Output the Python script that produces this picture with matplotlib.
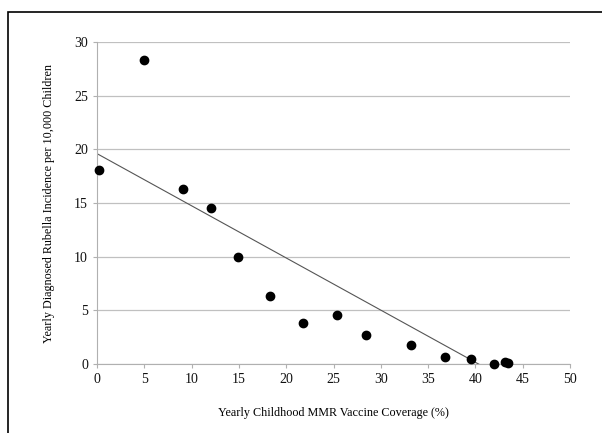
import matplotlib.pyplot as plt
import numpy as np
from matplotlib.patches import Rectangle

plt.rcParams["font.family"] = ["Liberation Serif", "DejaVu Serif"]

coverage = [0.2, 5.0, 9.1, 12.0, 14.9, 18.3, 21.8, 25.4, 28.4, 33.2, 36.8, 39.5, 42.0, 43.1, 43.4]
incidence = [18.1, 28.3, 16.3, 14.5, 10.0, 6.3, 3.8, 4.6, 2.7, 1.8, 0.65, 0.5, 0.0, 0.2, 0.05]

# linear trendline as drawn in the original
trend_intercept = 19.6
trend_slope = -0.486

x = np.array(coverage)
y = np.array(incidence)

fig = plt.figure(figsize=(6.02, 4.33), dpi=100)
fig.patches.append(Rectangle((8 / 602, -0.1), 1.2, 1 - 12 / 433 + 0.1, transform=fig.transFigure,
                             fill=False, edgecolor="black", linewidth=1.2))
ax = fig.add_axes([97 / 602, 1 - 364 / 433, (570 - 97) / 602, (364 - 42) / 433])

ax.scatter(x, y, s=36, color="black", zorder=3, clip_on=False)
xs = np.array([0, x.max()])
ax.plot(xs, trend_intercept + trend_slope * xs, color="#555555", linewidth=0.8, zorder=2)

ax.set_xlim(0, 50)
ax.set_ylim(0, 30)
ax.set_xticks(range(0, 51, 5))
ax.set_yticks(range(0, 31, 5))
ax.yaxis.grid(True, color="#c0c0c0", linewidth=0.9)
ax.set_axisbelow(True)
for side in ("top", "right"):
    ax.spines[side].set_visible(False)
for side in ("left", "bottom"):
    ax.spines[side].set_color("#b0b0b0")
ax.tick_params(colors="#b0b0b0", labelcolor="#111111", labelsize=10, length=3, width=0.8)

ax.set_xlabel("Yearly Childhood MMR Vaccine Coverage (%)", fontsize=8.7, labelpad=15)
ax.set_ylabel("Yearly Diagnosed Rubella Incidence per 10,000 Children", fontsize=8.7, labelpad=14)

fig.savefig("out.png", dpi=100)
